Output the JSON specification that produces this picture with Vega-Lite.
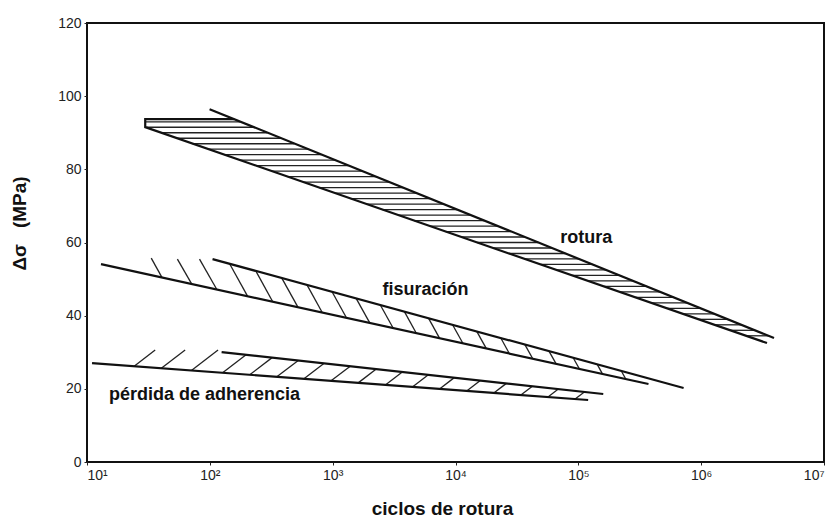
{
  "$schema": "https://vega.github.io/schema/vega-lite/v6.json",
  "width": 737,
  "height": 439,
  "autosize": {"type": "none"},
  "padding": {"left": 87, "top": 23, "right": 4, "bottom": 56},
  "background": "white",
  "config": {
    "view": {"stroke": "#111", "strokeWidth": 2},
    "font": "Liberation Sans",
    "axis": {"grid": false, "domain": false, "labelFont": "Liberation Sans", "titleFont": "Liberation Sans", "labelColor": "#222", "titleColor": "#111", "tickColor": "#222"}
  },
  "datasets": {
    "bordes": [
      {"linea": "rotura_sup", "orden": 1, "logN": 1.998, "ds": 96.45},
      {"linea": "rotura_sup", "orden": 2, "logN": 6.593, "ds": 33.88},
      {"linea": "rotura_inf", "orden": 1, "logN": 2.198, "ds": 93.7},
      {"linea": "rotura_inf", "orden": 2, "logN": 1.474, "ds": 93.7},
      {"linea": "rotura_inf", "orden": 3, "logN": 1.474, "ds": 91.53},
      {"linea": "rotura_inf", "orden": 4, "logN": 6.536, "ds": 32.51},
      {"linea": "fis_sup", "orden": 1, "logN": 2.022, "ds": 55.46},
      {"linea": "fis_sup", "orden": 2, "logN": 5.857, "ds": 20.22},
      {"linea": "fis_inf", "orden": 1, "logN": 1.114, "ds": 54.1},
      {"linea": "fis_inf", "orden": 2, "logN": 5.571, "ds": 21.31},
      {"linea": "per_sup", "orden": 1, "logN": 2.096, "ds": 30.05},
      {"linea": "per_sup", "orden": 2, "logN": 5.203, "ds": 18.58},
      {"linea": "per_inf", "orden": 1, "logN": 1.041, "ds": 27.05},
      {"linea": "per_inf", "orden": 2, "logN": 5.08, "ds": 16.94}
    ],
    "rayado": [
      {"banda": "rotura", "logN": 1.474, "logN2": 2.248, "ds": 93.0, "ds2": 93.0},
      {"banda": "rotura", "logN": 1.474, "logN2": 2.358, "ds": 91.5, "ds2": 91.5},
      {"banda": "rotura", "logN": 1.603, "logN2": 2.469, "ds": 90.0, "ds2": 90.0},
      {"banda": "rotura", "logN": 1.732, "logN2": 2.579, "ds": 88.5, "ds2": 88.5},
      {"banda": "rotura", "logN": 1.86, "logN2": 2.689, "ds": 87.0, "ds2": 87.0},
      {"banda": "rotura", "logN": 1.989, "logN2": 2.8, "ds": 85.5, "ds2": 85.5},
      {"banda": "rotura", "logN": 2.118, "logN2": 2.91, "ds": 84.0, "ds2": 84.0},
      {"banda": "rotura", "logN": 2.247, "logN2": 3.02, "ds": 82.5, "ds2": 82.5},
      {"banda": "rotura", "logN": 2.376, "logN2": 3.13, "ds": 81.0, "ds2": 81.0},
      {"banda": "rotura", "logN": 2.504, "logN2": 3.241, "ds": 79.5, "ds2": 79.5},
      {"banda": "rotura", "logN": 2.633, "logN2": 3.351, "ds": 78.0, "ds2": 78.0},
      {"banda": "rotura", "logN": 2.762, "logN2": 3.461, "ds": 76.5, "ds2": 76.5},
      {"banda": "rotura", "logN": 2.89, "logN2": 3.572, "ds": 75.0, "ds2": 75.0},
      {"banda": "rotura", "logN": 3.019, "logN2": 3.682, "ds": 73.5, "ds2": 73.5},
      {"banda": "rotura", "logN": 3.148, "logN2": 3.792, "ds": 72.0, "ds2": 72.0},
      {"banda": "rotura", "logN": 3.276, "logN2": 3.903, "ds": 70.5, "ds2": 70.5},
      {"banda": "rotura", "logN": 3.405, "logN2": 4.013, "ds": 69.0, "ds2": 69.0},
      {"banda": "rotura", "logN": 3.534, "logN2": 4.123, "ds": 67.5, "ds2": 67.5},
      {"banda": "rotura", "logN": 3.662, "logN2": 4.233, "ds": 66.0, "ds2": 66.0},
      {"banda": "rotura", "logN": 3.791, "logN2": 4.344, "ds": 64.5, "ds2": 64.5},
      {"banda": "rotura", "logN": 3.92, "logN2": 4.454, "ds": 63.0, "ds2": 63.0},
      {"banda": "rotura", "logN": 4.048, "logN2": 4.564, "ds": 61.5, "ds2": 61.5},
      {"banda": "rotura", "logN": 4.177, "logN2": 4.675, "ds": 60.0, "ds2": 60.0},
      {"banda": "rotura", "logN": 4.306, "logN2": 4.785, "ds": 58.5, "ds2": 58.5},
      {"banda": "rotura", "logN": 4.434, "logN2": 4.895, "ds": 57.0, "ds2": 57.0},
      {"banda": "rotura", "logN": 4.563, "logN2": 5.005, "ds": 55.5, "ds2": 55.5},
      {"banda": "rotura", "logN": 4.692, "logN2": 5.116, "ds": 54.0, "ds2": 54.0},
      {"banda": "rotura", "logN": 4.821, "logN2": 5.226, "ds": 52.5, "ds2": 52.5},
      {"banda": "rotura", "logN": 4.949, "logN2": 5.336, "ds": 51.0, "ds2": 51.0},
      {"banda": "rotura", "logN": 5.078, "logN2": 5.447, "ds": 49.5, "ds2": 49.5},
      {"banda": "rotura", "logN": 5.207, "logN2": 5.557, "ds": 48.0, "ds2": 48.0},
      {"banda": "rotura", "logN": 5.335, "logN2": 5.667, "ds": 46.5, "ds2": 46.5},
      {"banda": "rotura", "logN": 5.464, "logN2": 5.778, "ds": 45.0, "ds2": 45.0},
      {"banda": "rotura", "logN": 5.593, "logN2": 5.888, "ds": 43.5, "ds2": 43.5},
      {"banda": "rotura", "logN": 5.721, "logN2": 5.998, "ds": 42.0, "ds2": 42.0},
      {"banda": "rotura", "logN": 5.85, "logN2": 6.109, "ds": 40.5, "ds2": 40.5},
      {"banda": "rotura", "logN": 5.979, "logN2": 6.219, "ds": 39.0, "ds2": 39.0},
      {"banda": "rotura", "logN": 6.107, "logN2": 6.329, "ds": 37.5, "ds2": 37.5},
      {"banda": "rotura", "logN": 6.236, "logN2": 6.44, "ds": 36.0, "ds2": 36.0},
      {"banda": "rotura", "logN": 6.365, "logN2": 6.55, "ds": 34.5, "ds2": 34.5},
      {"banda": "fisuracion", "logN": 1.523, "ds": 55.74, "logN2": 1.61, "ds2": 50.46},
      {"banda": "fisuracion", "logN": 1.736, "ds": 55.46, "logN2": 1.852, "ds2": 48.69},
      {"banda": "fisuracion", "logN": 1.916, "ds": 55.46, "logN2": 2.057, "ds2": 47.16},
      {"banda": "fisuracion", "logN": 2.161, "ds": 54.18, "logN2": 2.307, "ds2": 45.33},
      {"banda": "fisuracion", "logN": 2.374, "ds": 52.24, "logN2": 2.512, "ds2": 43.82},
      {"banda": "fisuracion", "logN": 2.586, "ds": 50.27, "logN2": 2.717, "ds2": 42.32},
      {"banda": "fisuracion", "logN": 2.791, "ds": 48.4, "logN2": 2.915, "ds2": 40.87},
      {"banda": "fisuracion", "logN": 2.995, "ds": 46.53, "logN2": 3.112, "ds2": 39.43},
      {"banda": "fisuracion", "logN": 3.191, "ds": 44.73, "logN2": 3.302, "ds2": 38.03},
      {"banda": "fisuracion", "logN": 3.388, "ds": 42.92, "logN2": 3.492, "ds2": 36.64},
      {"banda": "fisuracion", "logN": 3.584, "ds": 41.12, "logN2": 3.68, "ds2": 35.25},
      {"banda": "fisuracion", "logN": 3.78, "ds": 39.32, "logN2": 3.87, "ds2": 33.85},
      {"banda": "fisuracion", "logN": 3.976, "ds": 37.51, "logN2": 4.06, "ds2": 32.46},
      {"banda": "fisuracion", "logN": 4.173, "ds": 35.71, "logN2": 4.25, "ds2": 31.07},
      {"banda": "fisuracion", "logN": 4.369, "ds": 33.91, "logN2": 4.438, "ds2": 29.67},
      {"banda": "fisuracion", "logN": 4.565, "ds": 32.1, "logN2": 4.628, "ds2": 28.28},
      {"banda": "fisuracion", "logN": 4.761, "ds": 30.3, "logN2": 4.818, "ds2": 26.88},
      {"banda": "fisuracion", "logN": 4.958, "ds": 28.5, "logN2": 5.008, "ds2": 25.49},
      {"banda": "fisuracion", "logN": 5.154, "ds": 26.69, "logN2": 5.196, "ds2": 24.1},
      {"banda": "fisuracion", "logN": 5.35, "ds": 24.89, "logN2": 5.386, "ds2": 22.7},
      {"banda": "perdida", "logN": 1.384, "ds": 26.2, "logN2": 1.555, "ds2": 30.6},
      {"banda": "perdida", "logN": 1.605, "ds": 25.63, "logN2": 1.799, "ds2": 30.6},
      {"banda": "perdida", "logN": 1.85, "ds": 25.03, "logN2": 2.067, "ds2": 30.6},
      {"banda": "perdida", "logN": 2.104, "ds": 24.39, "logN2": 2.295, "ds2": 29.31},
      {"banda": "perdida", "logN": 2.325, "ds": 23.84, "logN2": 2.507, "ds2": 28.53},
      {"banda": "perdida", "logN": 2.545, "ds": 23.28, "logN2": 2.72, "ds2": 27.75},
      {"banda": "perdida", "logN": 2.766, "ds": 22.73, "logN2": 2.931, "ds2": 26.97},
      {"banda": "perdida", "logN": 2.987, "ds": 22.18, "logN2": 3.143, "ds2": 26.19},
      {"banda": "perdida", "logN": 3.208, "ds": 21.63, "logN2": 3.355, "ds2": 25.4},
      {"banda": "perdida", "logN": 3.429, "ds": 21.07, "logN2": 3.567, "ds2": 24.62},
      {"banda": "perdida", "logN": 3.649, "ds": 20.52, "logN2": 3.779, "ds2": 23.84},
      {"banda": "perdida", "logN": 3.87, "ds": 19.97, "logN2": 3.99, "ds2": 23.06},
      {"banda": "perdida", "logN": 4.091, "ds": 19.42, "logN2": 4.202, "ds2": 22.28},
      {"banda": "perdida", "logN": 4.312, "ds": 18.86, "logN2": 4.414, "ds2": 21.49},
      {"banda": "perdida", "logN": 4.532, "ds": 18.31, "logN2": 4.626, "ds2": 20.71},
      {"banda": "perdida", "logN": 4.753, "ds": 17.76, "logN2": 4.837, "ds2": 19.93},
      {"banda": "perdida", "logN": 4.974, "ds": 17.2, "logN2": 5.049, "ds2": 19.15}
    ],
    "etiquetas": [
      {"texto": "rotura", "logN": 5.064, "ds": 61.2},
      {"texto": "fisuración", "logN": 3.756, "ds": 47.0},
      {"texto": "pérdida de adherencia", "logN": 1.957, "ds": 18.3}
    ]
  },
  "layer": [
    {
      "data": {"name": "rayado"},
      "mark": {"type": "rule", "color": "#222", "strokeWidth": 1.3},
      "encoding": {
        "x": {"field": "logN", "type": "quantitative",
              "scale": {"domain": [1, 7], "nice": false, "zero": false},
              "axis": {"values": [1, 2, 3, 4, 5, 6, 7], "labelExpr": "'10' + ['⁰','¹','²','³','⁴','⁵','⁶','⁷'][datum.value]",
                       "labelFontSize": 14, "tickSize": 3, "labelPadding": 3, "labelFlush": true,
                       "title": "ciclos de rotura", "titleFontSize": 19, "titleFontWeight": "bold",
                       "titleX": 355, "titleY": 46, "titleBaseline": "middle", "titleAnchor": "middle"}},
        "y": {"field": "ds", "type": "quantitative",
              "scale": {"domain": [0, 120], "nice": false},
              "axis": {"values": [0, 20, 40, 60, 80, 100, 120], "labelFontSize": 14, "tickSize": 3, "labelPadding": 3,
                       "title": "Δσ\u00a0\u00a0\u00a0(MPa)", "titleFontSize": 19, "titleFontWeight": "bold",
                       "titleX": -68, "titleY": 200, "titleAngle": -90, "titleBaseline": "middle", "titleAlign": "center"}},
        "x2": {"field": "logN2"},
        "y2": {"field": "ds2"}
      }
    },
    {
      "data": {"name": "bordes"},
      "mark": {"type": "line", "color": "#111", "strokeWidth": 2.2},
      "encoding": {
        "x": {"field": "logN", "type": "quantitative"},
        "y": {"field": "ds", "type": "quantitative"},
        "detail": {"field": "linea"},
        "order": {"field": "orden"}
      }
    },
    {
      "data": {"name": "etiquetas"},
      "mark": {"type": "text", "fontSize": 18, "fontWeight": "bold", "color": "#111", "align": "center", "baseline": "middle", "font": "Liberation Sans"},
      "encoding": {
        "x": {"field": "logN", "type": "quantitative"},
        "y": {"field": "ds", "type": "quantitative"},
        "text": {"field": "texto"}
      }
    }
  ]
}
